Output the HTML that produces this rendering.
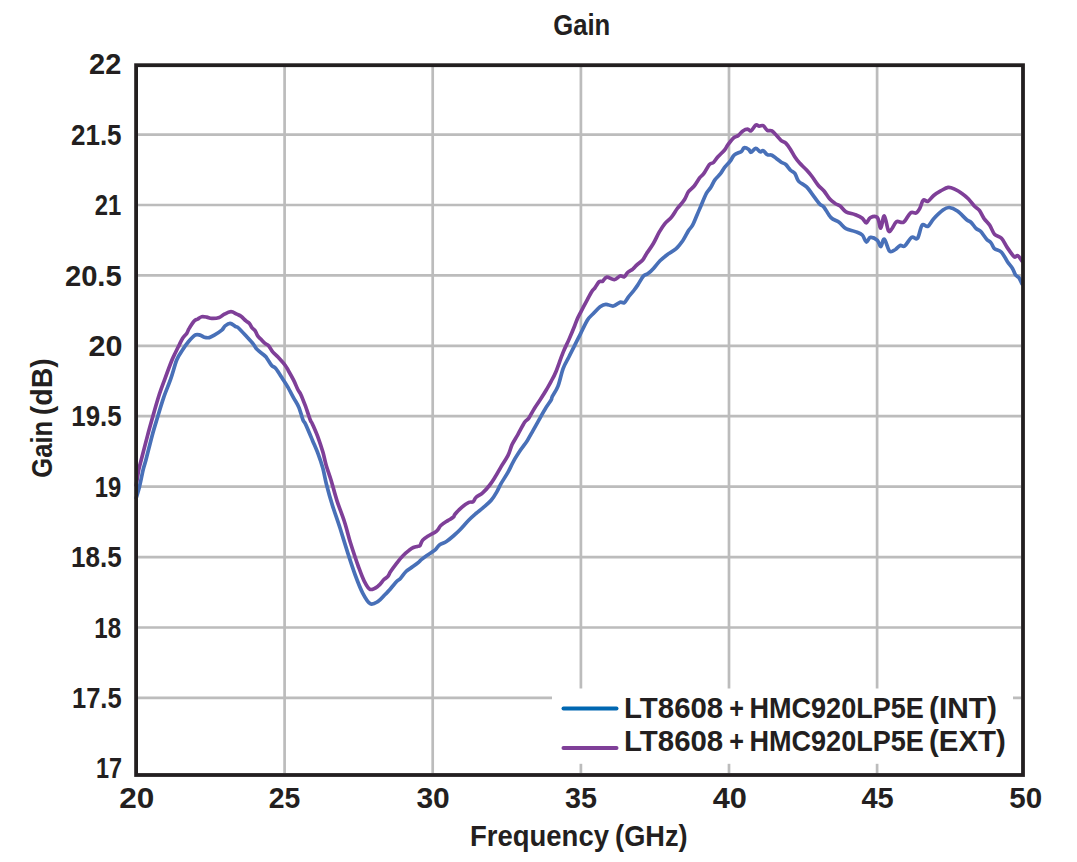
<!DOCTYPE html>
<html><head><meta charset="utf-8"><style>
html,body{margin:0;padding:0;background:#fff;}
svg{display:block;}
text{font-family:"Liberation Sans",sans-serif;font-weight:bold;fill:#231f20;}
</style></head><body>
<svg width="1077" height="862" viewBox="0 0 1077 862">
<rect x="0" y="0" width="1077" height="862" fill="#fff"/>

<path d="M138 697.9H1021 M138 627.5H1021 M138 557.1H1021 M138 486.7H1021 M138 416.2H1021 M138 345.8H1021 M138 275.4H1021 M138 205.0H1021 M138 134.6H1021 M284.6 67V773 M432.7 67V773 M580.9 67V773 M729.0 67V773 M877.1 67V773" stroke="#bcbcbc" stroke-width="2.7" fill="none"/>
<rect x="552" y="688.5" width="461" height="75.3" fill="#fff"/>
<clipPath id="c"><rect x="130" y="65" width="893" height="710"/></clipPath>
<g clip-path="url(#c)">
<path d="M136.2 485.3 C136.6 482.8 137.9 474.2 138.7 470.0 C139.5 465.8 139.7 465.8 141.2 460.0 C142.7 454.2 145.6 443.0 147.6 435.4 C149.6 427.8 151.5 421.3 153.4 414.5 C155.3 407.7 157.3 400.8 159.2 394.8 C161.1 388.8 162.9 384.4 165.0 378.6 C167.1 372.8 170.3 364.2 172.0 360.0 C173.7 355.8 173.9 355.7 175.0 353.5 C176.1 351.3 177.1 349.3 178.3 346.8 C179.6 344.3 181.1 340.6 182.5 338.4 C183.9 336.2 185.6 335.1 186.7 333.4 C187.8 331.7 187.9 330.5 189.2 328.4 C190.4 326.3 192.8 322.4 194.2 320.9 C195.6 319.4 196.3 319.9 197.6 319.2 C198.8 318.5 200.2 317.0 201.7 316.7 C203.2 316.4 205.0 316.8 206.7 317.1 C208.4 317.4 209.7 318.3 211.8 318.4 C213.9 318.5 217.2 318.2 219.3 317.5 C221.4 316.8 222.4 315.2 224.3 314.2 C226.2 313.2 228.9 311.7 231.0 311.7 C233.1 311.7 235.1 313.4 236.8 314.2 C238.5 315.0 239.5 315.2 241.0 316.3 C242.5 317.4 244.6 319.7 246.0 320.9 C247.4 322.1 248.4 322.3 249.4 323.4 C250.4 324.5 250.9 326.4 251.9 327.6 C252.9 328.9 254.2 329.5 255.2 330.9 C256.2 332.3 256.7 334.5 257.7 335.9 C258.7 337.3 259.8 338.1 261.0 339.3 C262.2 340.6 263.7 342.3 265.0 343.4 C266.3 344.5 267.3 344.3 268.6 345.7 C269.9 347.1 271.1 350.0 272.7 351.9 C274.3 353.8 275.9 354.8 278.0 357.1 C280.1 359.4 283.6 363.2 285.3 365.5 C287.0 367.8 287.0 368.3 288.4 370.7 C289.8 373.1 292.0 377.0 293.6 380.1 C295.2 383.2 296.6 387.1 297.8 389.5 C299.0 391.9 299.7 392.1 300.9 394.7 C302.1 397.3 303.5 401.0 305.1 405.2 C306.7 409.4 309.1 416.9 310.3 420.0 C311.5 423.1 311.1 420.9 312.4 423.9 C313.7 426.9 316.5 433.1 318.2 437.8 C319.9 442.5 321.4 447.2 322.8 451.8 C324.2 456.4 324.9 461.0 326.3 465.7 C327.7 470.4 329.2 474.1 331.0 480.0 C332.8 485.9 334.8 494.1 337.1 501.1 C339.4 508.1 342.4 515.2 344.6 522.2 C346.9 529.2 348.3 536.0 350.6 543.3 C352.9 550.6 355.9 559.7 358.2 566.0 C360.5 572.3 362.2 577.2 364.2 581.1 C366.2 585.0 367.9 588.6 370.2 589.4 C372.5 590.2 375.9 587.7 378.1 586.1 C380.4 584.5 382.1 581.4 383.7 579.8 C385.3 578.2 386.8 577.8 387.9 576.4 C389.0 575.0 389.2 573.6 390.6 571.5 C392.0 569.4 394.1 566.5 396.2 563.8 C398.3 561.1 400.6 558.0 403.2 555.5 C405.8 553.0 409.2 550.0 411.5 548.5 C413.8 547.0 415.7 546.9 417.1 546.4 C418.5 545.9 419.0 546.8 419.9 545.7 C420.8 544.7 421.3 541.7 422.7 540.1 C424.1 538.5 425.9 537.5 428.2 536.0 C430.5 534.5 434.5 532.9 436.6 531.1 C438.7 529.4 439.0 527.2 440.8 525.5 C442.6 523.8 445.6 522.0 447.7 520.6 C449.8 519.2 452.1 518.3 453.3 517.2 C454.5 516.1 453.6 515.9 455.0 514.2 C456.4 512.5 459.7 509.2 462.0 507.2 C464.3 505.2 467.0 503.3 468.9 502.4 C470.8 501.5 471.9 502.5 473.1 501.7 C474.3 500.9 474.3 499.0 475.9 497.5 C477.5 496.0 480.6 494.7 482.9 492.6 C485.2 490.5 487.7 487.7 489.8 485.0 C491.9 482.3 493.5 479.6 495.4 476.6 C497.3 473.6 498.9 470.4 501.0 466.9 C503.1 463.4 506.0 459.4 507.9 455.7 C509.8 452.0 510.5 448.1 512.1 444.6 C513.7 441.1 515.6 438.5 517.7 434.8 C519.8 431.1 522.8 425.1 524.6 422.3 C526.5 419.5 527.2 420.4 528.8 418.1 C530.4 415.8 532.5 411.4 534.4 408.4 C536.3 405.4 538.0 403.1 540.0 400.0 C542.0 396.9 544.6 392.8 546.4 389.7 C548.2 386.6 549.5 384.5 551.0 381.6 C552.5 378.7 553.7 377.2 555.7 372.3 C557.7 367.4 560.9 357.8 563.1 352.4 C565.3 346.9 567.0 344.1 568.9 339.6 C570.8 335.2 573.3 329.2 574.7 325.7 C576.1 322.2 576.5 320.8 577.5 318.5 C578.5 316.2 579.4 314.7 580.9 311.8 C582.4 308.9 584.9 304.2 586.7 300.9 C588.5 297.5 590.3 293.9 591.7 291.7 C593.1 289.5 593.9 289.3 595.1 287.6 C596.4 285.9 598.0 282.8 599.2 281.7 C600.5 280.6 601.3 282.1 602.6 281.3 C603.9 280.5 604.8 277.4 606.8 277.1 C608.8 276.8 612.1 279.8 614.3 279.6 C616.5 279.4 618.4 276.4 620.1 275.9 C621.8 275.4 623.0 277.3 624.3 276.7 C625.5 276.1 626.2 273.8 627.6 272.5 C629.0 271.2 631.2 270.4 632.7 269.2 C634.2 267.9 635.1 266.5 636.8 265.0 C638.5 263.5 641.1 261.8 642.7 260.0 C644.3 258.2 644.5 256.9 646.2 254.2 C648.0 251.5 651.0 247.5 653.2 243.8 C655.4 240.1 657.3 235.5 659.2 232.2 C661.1 228.9 662.6 226.4 664.7 223.8 C666.8 221.2 669.6 219.5 671.7 216.9 C673.8 214.3 675.2 211.3 677.3 208.5 C679.4 205.7 682.4 202.9 684.2 200.1 C686.1 197.3 686.8 194.1 688.4 191.8 C690.0 189.5 692.1 188.5 694.0 186.2 C695.9 183.9 698.0 180.0 699.6 177.9 C701.2 175.8 702.1 175.9 703.7 173.7 C705.3 171.5 707.7 166.5 709.3 164.6 C710.9 162.7 712.1 163.8 713.5 162.5 C714.9 161.2 715.9 159.1 717.7 157.0 C719.6 154.9 722.9 152.0 724.6 150.0 C726.3 148.0 726.3 146.8 727.8 144.8 C729.3 142.8 731.9 139.4 733.6 137.8 C735.4 136.2 736.8 136.7 738.3 135.5 C739.8 134.3 741.3 132.0 742.9 130.9 C744.5 129.8 746.2 129.1 747.6 129.1 C749.0 129.1 749.6 131.6 751.0 130.9 C752.4 130.2 754.3 125.9 755.7 125.1 C757.1 124.3 758.0 126.1 759.2 126.2 C760.5 126.3 761.9 125.0 763.2 125.7 C764.6 126.4 765.8 129.4 767.3 130.3 C768.8 131.2 770.3 130.0 771.9 130.9 C773.5 131.8 775.0 133.9 776.6 135.5 C778.2 137.1 779.7 139.4 781.2 140.7 C782.7 142.0 784.2 141.6 785.8 143.1 C787.3 144.6 789.0 147.0 790.5 149.4 C792.0 151.8 793.6 155.0 795.1 157.3 C796.6 159.6 797.7 161.0 799.6 163.1 C801.5 165.2 804.5 167.8 806.6 170.1 C808.7 172.4 810.5 174.5 812.4 177.0 C814.3 179.5 816.3 182.9 818.2 185.2 C820.1 187.5 822.1 188.7 824.0 191.0 C825.9 193.3 827.9 197.0 829.8 199.1 C831.7 201.2 833.9 202.5 835.6 203.7 C837.3 204.8 838.5 204.7 840.2 206.0 C841.9 207.3 843.5 210.4 846.0 211.8 C848.5 213.2 852.6 213.6 855.3 214.7 C858.0 215.8 860.5 216.8 862.3 218.2 C864.1 219.6 864.9 223.0 866.3 222.9 C867.6 222.8 868.5 218.5 870.4 217.6 C872.2 216.7 875.7 215.8 877.4 217.6 C879.1 219.3 879.6 228.4 880.8 228.1 C881.9 227.8 883.0 215.4 884.3 215.9 C885.6 216.4 887.2 228.8 888.5 230.9 C889.8 233.0 890.6 230.2 892.0 228.6 C893.4 227.0 894.7 222.7 896.6 221.6 C898.5 220.5 901.3 223.6 903.6 222.2 C905.9 220.8 908.4 214.4 910.5 212.9 C912.6 211.4 914.8 213.7 916.3 212.9 C917.8 212.1 918.6 210.4 919.8 208.3 C921.0 206.2 921.9 201.4 923.3 200.2 C924.6 199.0 926.2 202.1 927.9 201.3 C929.6 200.5 931.6 197.2 933.7 195.5 C935.8 193.8 938.3 192.2 940.7 190.9 C943.1 189.6 945.9 187.7 948.2 187.4 C950.5 187.1 952.4 188.1 954.6 189.1 C956.8 190.1 959.3 191.5 961.6 193.2 C963.9 194.8 966.4 196.9 968.5 199.0 C970.6 201.1 972.5 204.1 974.3 206.0 C976.1 207.9 977.8 208.3 979.4 210.4 C981.0 212.5 982.4 216.1 984.1 218.6 C985.9 221.1 988.2 222.9 989.9 225.5 C991.6 228.1 992.6 232.1 994.5 234.2 C996.4 236.3 999.4 236.1 1001.5 238.3 C1003.6 240.5 1005.2 244.5 1007.3 247.6 C1009.4 250.7 1012.5 255.5 1014.2 256.8 C1015.9 258.2 1016.4 255.0 1017.7 255.7 C1019.0 256.4 1021.3 260.1 1022.0 261.0" stroke="#7f3f98" stroke-width="3.7" fill="none" stroke-linejoin="round" stroke-linecap="round"/>
<path d="M136.2 498.1 C136.7 496.2 138.2 491.8 139.4 487.0 C140.6 482.2 142.1 474.0 143.2 469.5 C144.3 465.0 144.4 465.7 145.9 460.0 C147.4 454.3 150.2 442.8 152.2 435.4 C154.2 428.0 156.1 422.1 158.0 415.7 C159.9 409.3 161.7 403.3 163.8 397.1 C165.9 390.9 168.7 384.8 170.8 378.6 C173.0 372.4 174.8 364.8 176.7 360.0 C178.6 355.2 180.6 353.1 182.5 350.1 C184.4 347.1 186.3 344.3 188.4 341.8 C190.5 339.3 193.1 336.2 195.0 335.1 C196.9 334.0 198.6 334.8 200.1 335.1 C201.6 335.5 202.7 336.8 204.2 337.2 C205.7 337.6 207.6 338.0 209.3 337.6 C211.0 337.2 212.2 336.4 214.3 335.1 C216.4 333.9 220.0 331.6 221.8 330.1 C223.6 328.6 223.7 327.0 225.1 325.9 C226.5 324.8 228.4 323.3 230.1 323.4 C231.8 323.5 233.8 325.5 235.2 326.3 C236.6 327.1 236.6 326.2 238.5 328.0 C240.4 329.8 244.3 334.1 246.8 336.8 C249.3 339.5 251.8 342.2 253.5 344.3 C255.2 346.4 255.0 347.4 256.9 349.3 C258.8 351.2 263.2 354.4 265.0 356.0 C266.8 357.6 266.4 357.6 267.5 359.2 C268.6 360.8 270.3 363.9 271.7 365.5 C273.1 367.1 274.2 366.5 275.9 368.6 C277.6 370.7 280.2 375.0 282.1 378.0 C284.0 381.0 285.5 383.1 287.4 386.4 C289.3 389.7 291.7 394.3 293.6 397.8 C295.5 401.3 297.2 403.5 298.8 407.2 C300.4 410.9 301.9 417.2 303.0 420.0 C304.1 422.8 303.8 420.5 305.4 423.9 C307.0 427.3 310.3 435.2 312.4 440.2 C314.5 445.2 316.5 449.5 318.2 454.1 C319.9 458.7 321.4 462.9 322.8 468.0 C324.2 473.1 324.9 478.2 326.5 484.5 C328.1 490.8 330.2 498.3 332.5 505.6 C334.8 512.9 337.6 520.5 340.1 528.3 C342.6 536.1 345.1 544.6 347.6 552.4 C350.1 560.2 352.7 568.2 355.2 575.0 C357.7 581.8 360.2 588.3 362.7 593.1 C365.2 597.9 367.6 602.3 370.2 603.7 C372.8 605.1 375.6 602.9 378.1 601.4 C380.6 599.9 383.2 596.4 385.1 594.5 C387.0 592.6 387.4 592.4 389.2 590.3 C391.0 588.2 394.3 583.9 396.2 581.9 C398.1 579.9 398.8 580.1 400.4 578.4 C402.0 576.7 403.9 573.5 406.0 571.5 C408.1 569.5 410.8 568.1 412.9 566.6 C415.0 565.1 417.1 563.6 418.5 562.4 C419.9 561.2 419.9 560.8 421.3 559.6 C422.7 558.5 424.6 557.1 426.9 555.5 C429.2 553.9 433.1 551.6 435.2 549.9 C437.3 548.1 437.5 546.4 439.4 545.0 C441.3 543.6 444.1 543.0 446.4 541.5 C448.7 540.0 451.0 538.0 453.3 536.0 C455.6 534.0 457.4 532.4 460.0 529.7 C462.6 527.0 466.2 522.7 468.9 520.0 C471.5 517.3 473.6 515.5 475.9 513.5 C478.2 511.5 480.3 510.1 482.9 507.9 C485.4 505.7 488.9 503.0 491.2 500.3 C493.5 497.6 495.2 494.7 496.8 491.9 C498.4 489.1 499.1 486.9 501.0 483.6 C502.9 480.4 505.8 476.1 507.9 472.4 C510.0 468.7 511.4 465.0 513.5 461.3 C515.6 457.6 518.2 453.6 520.5 450.1 C522.8 446.6 525.3 443.6 527.4 440.4 C529.5 437.1 530.9 434.3 533.0 430.6 C535.1 426.9 537.9 421.8 540.0 418.1 C542.1 414.4 543.6 411.4 545.5 408.4 C547.4 405.4 550.0 401.9 551.1 400.0 C552.2 398.1 551.1 399.0 552.2 396.7 C553.4 394.4 556.2 390.9 558.0 386.2 C559.8 381.5 561.3 373.5 563.1 368.6 C564.9 363.7 567.0 360.9 568.9 357.0 C570.8 353.1 572.8 349.3 574.7 345.4 C576.6 341.5 578.4 338.0 580.5 333.8 C582.6 329.6 585.4 323.4 587.5 320.0 C589.6 316.6 591.3 315.7 593.4 313.5 C595.5 311.3 598.0 308.3 600.1 306.8 C602.2 305.3 603.7 304.4 605.9 304.3 C608.1 304.2 611.0 306.4 613.4 306.0 C615.8 305.6 618.3 302.8 620.1 302.2 C621.9 301.6 622.9 303.5 624.3 302.6 C625.7 301.7 627.0 298.8 628.5 296.8 C630.0 294.9 632.0 292.8 633.5 290.9 C635.0 288.9 636.0 287.6 637.7 285.1 C639.4 282.6 641.8 277.8 643.5 275.9 C645.2 274.0 646.0 275.1 647.7 273.8 C649.4 272.6 651.5 270.6 653.5 268.4 C655.5 266.2 657.7 263.1 660.0 260.8 C662.3 258.5 664.9 256.5 667.5 254.5 C670.1 252.5 673.3 251.2 675.9 248.9 C678.5 246.6 680.8 243.5 682.9 240.5 C685.0 237.5 686.8 233.4 688.4 230.8 C690.0 228.2 691.2 227.8 692.6 225.2 C694.0 222.6 695.4 218.8 696.8 215.5 C698.2 212.2 699.4 209.4 701.0 205.7 C702.6 202.0 704.9 196.2 706.5 193.2 C708.1 190.2 709.3 189.8 710.7 187.6 C712.1 185.4 713.3 182.2 714.9 179.9 C716.5 177.6 718.9 175.8 720.5 173.7 C722.1 171.6 723.0 169.5 724.6 167.4 C726.2 165.3 728.6 163.2 730.2 161.1 C731.8 159.0 732.5 156.5 734.4 154.9 C736.3 153.3 739.8 152.6 741.4 151.4 C743.0 150.2 742.9 148.0 744.1 147.7 C745.3 147.4 747.6 148.6 748.7 149.4 C749.9 150.2 749.8 152.5 751.0 152.3 C752.2 152.1 754.2 148.4 755.7 148.3 C757.2 148.2 759.0 151.4 760.3 151.8 C761.5 152.2 762.0 150.1 763.2 150.6 C764.4 151.1 765.8 153.9 767.3 154.7 C768.8 155.5 770.3 154.5 771.9 155.2 C773.5 155.9 775.0 157.5 776.6 158.7 C778.2 159.9 779.7 161.2 781.2 162.2 C782.7 163.2 784.2 163.2 785.8 164.5 C787.3 165.8 789.0 168.8 790.5 170.3 C792.0 171.8 793.7 171.8 795.0 173.6 C796.3 175.4 796.6 178.9 798.5 181.1 C800.4 183.3 804.3 184.7 806.6 186.9 C808.9 189.1 810.3 191.6 812.4 194.4 C814.5 197.2 817.5 201.6 819.4 203.7 C821.3 205.8 822.1 204.9 824.0 207.2 C825.9 209.5 828.5 215.1 831.0 217.6 C833.5 220.1 836.6 220.5 839.1 222.3 C841.6 224.2 843.3 227.1 846.0 228.7 C848.7 230.2 852.6 230.5 855.3 231.6 C858.0 232.7 860.5 233.3 862.3 235.0 C864.1 236.7 864.9 241.6 866.3 242.0 C867.6 242.4 868.5 237.7 870.4 237.4 C872.2 237.1 875.7 238.8 877.4 240.3 C879.1 241.8 879.6 246.8 880.8 246.6 C881.9 246.4 882.8 238.3 884.3 239.1 C885.8 239.9 887.8 249.5 889.6 251.2 C891.5 252.9 893.6 250.5 895.4 249.5 C897.1 248.5 898.5 246.0 900.1 245.4 C901.7 244.8 902.8 247.3 904.7 246.0 C906.6 244.7 909.6 238.6 911.7 237.3 C913.8 236.0 915.8 240.4 917.5 238.4 C919.2 236.4 920.4 227.1 922.1 225.1 C923.8 223.1 926.0 227.4 927.9 226.3 C929.8 225.2 931.2 221.4 933.7 218.7 C936.2 216.0 940.4 211.9 943.0 210.0 C945.6 208.1 946.9 207.3 949.3 207.5 C951.7 207.7 954.5 209.0 957.4 211.0 C960.3 213.0 964.4 217.8 966.7 219.7 C969.0 221.6 969.8 221.1 971.3 222.6 C972.8 224.1 974.5 226.9 976.0 228.4 C977.5 229.9 978.9 229.6 980.6 231.3 C982.3 233.1 984.7 237.0 986.4 238.9 C988.1 240.8 989.6 241.3 991.0 242.9 C992.4 244.5 992.8 247.1 994.5 248.7 C996.2 250.2 999.4 250.1 1001.5 252.2 C1003.6 254.3 1005.5 258.8 1007.3 261.5 C1009.1 264.2 1011.1 266.2 1012.5 268.4 C1013.9 270.6 1014.3 273.2 1015.4 274.8 C1016.5 276.4 1017.8 276.2 1018.9 277.7 C1020.0 279.2 1021.5 282.8 1022.0 283.8" stroke="#4870b8" stroke-width="3.7" fill="none" stroke-linejoin="round" stroke-linecap="round"/>
</g>
<rect x="136.1" y="65.2" width="886.9" height="709.8" fill="none" stroke="#231f20" stroke-width="3.8"/>
<path d="M563.5 708.6H616.5" stroke="#0067b1" stroke-width="4" stroke-linecap="round"/>
<path d="M563.5 748H616.5" stroke="#7f3f98" stroke-width="4" stroke-linecap="round"/>
<text transform="translate(553.22 34.60) scale(0.8758 1)" font-size="29.3">Gain</text>
<text transform="translate(89.01 74.27) scale(0.9903 1)" font-size="29.3">22</text>
<text transform="translate(70.91 144.68) scale(0.8891 1)" font-size="29.3">21.5</text>
<text transform="translate(94.69 215.10) scale(0.8129 1)" font-size="29.3">21</text>
<text transform="translate(64.90 285.52) scale(0.9964 1)" font-size="29.3">20.5</text>
<text transform="translate(88.46 355.93) scale(1.0400 1)" font-size="29.3">20</text>
<text transform="translate(71.34 426.35) scale(0.8815 1)" font-size="29.3">19.5</text>
<text transform="translate(94.78 496.76) scale(0.8100 1)" font-size="29.3">19</text>
<text transform="translate(71.03 567.18) scale(0.8870 1)" font-size="29.3">18.5</text>
<text transform="translate(94.35 637.59) scale(0.8233 1)" font-size="29.3">18</text>
<text transform="translate(71.96 708.00) scale(0.8704 1)" font-size="29.3">17.5</text>
<text transform="translate(95.90 778.42) scale(0.8000 1)" font-size="29.3">17</text>
<text transform="translate(119.22 807.50) scale(1.0767 1)" font-size="29.3">20</text>
<text transform="translate(268.83 807.50) scale(0.9677 1)" font-size="29.3">25</text>
<text transform="translate(416.38 807.50) scale(1.0233 1)" font-size="29.3">30</text>
<text transform="translate(565.02 807.50) scale(0.9806 1)" font-size="29.3">35</text>
<text transform="translate(712.80 807.50) scale(1.0484 1)" font-size="29.3">40</text>
<text transform="translate(861.40 807.50) scale(0.9906 1)" font-size="29.3">45</text>
<text transform="translate(1009.29 807.50) scale(1.0100 1)" font-size="29.3">50</text>
<text transform="translate(469.92 845.90) scale(0.9390 1)" font-size="29.3">Frequency</text>
<text transform="translate(615.12 845.90) scale(0.9270 1)" font-size="29.3">(GHz)</text>
<text transform="translate(624.09 718.40) scale(1.0031 1)" font-size="29.3">LT8608</text>
<text transform="translate(729.14 718.40) scale(0.8600 1)" font-size="29.3">+</text>
<text transform="translate(749.45 718.40) scale(0.9237 1)" font-size="29.3">HMC920LP5E</text>
<text transform="translate(928.98 718.40) scale(1.0203 1)" font-size="29.3">(INT)</text>
<text transform="translate(624.09 750.90) scale(1.0031 1)" font-size="29.3">LT8608</text>
<text transform="translate(729.14 750.90) scale(0.8600 1)" font-size="29.3">+</text>
<text transform="translate(749.45 750.90) scale(0.9237 1)" font-size="29.3">HMC920LP5E</text>
<text transform="translate(929.00 750.90) scale(1.0041 1)" font-size="29.3">(EXT)</text>
<text transform="translate(51.90 477.78) rotate(-90) scale(0.8758 1)" font-size="29.3">Gain</text>
<text transform="translate(51.90 415.17) rotate(-90) scale(0.9723 1)" font-size="29.3">(dB)</text>
</svg></body></html>
